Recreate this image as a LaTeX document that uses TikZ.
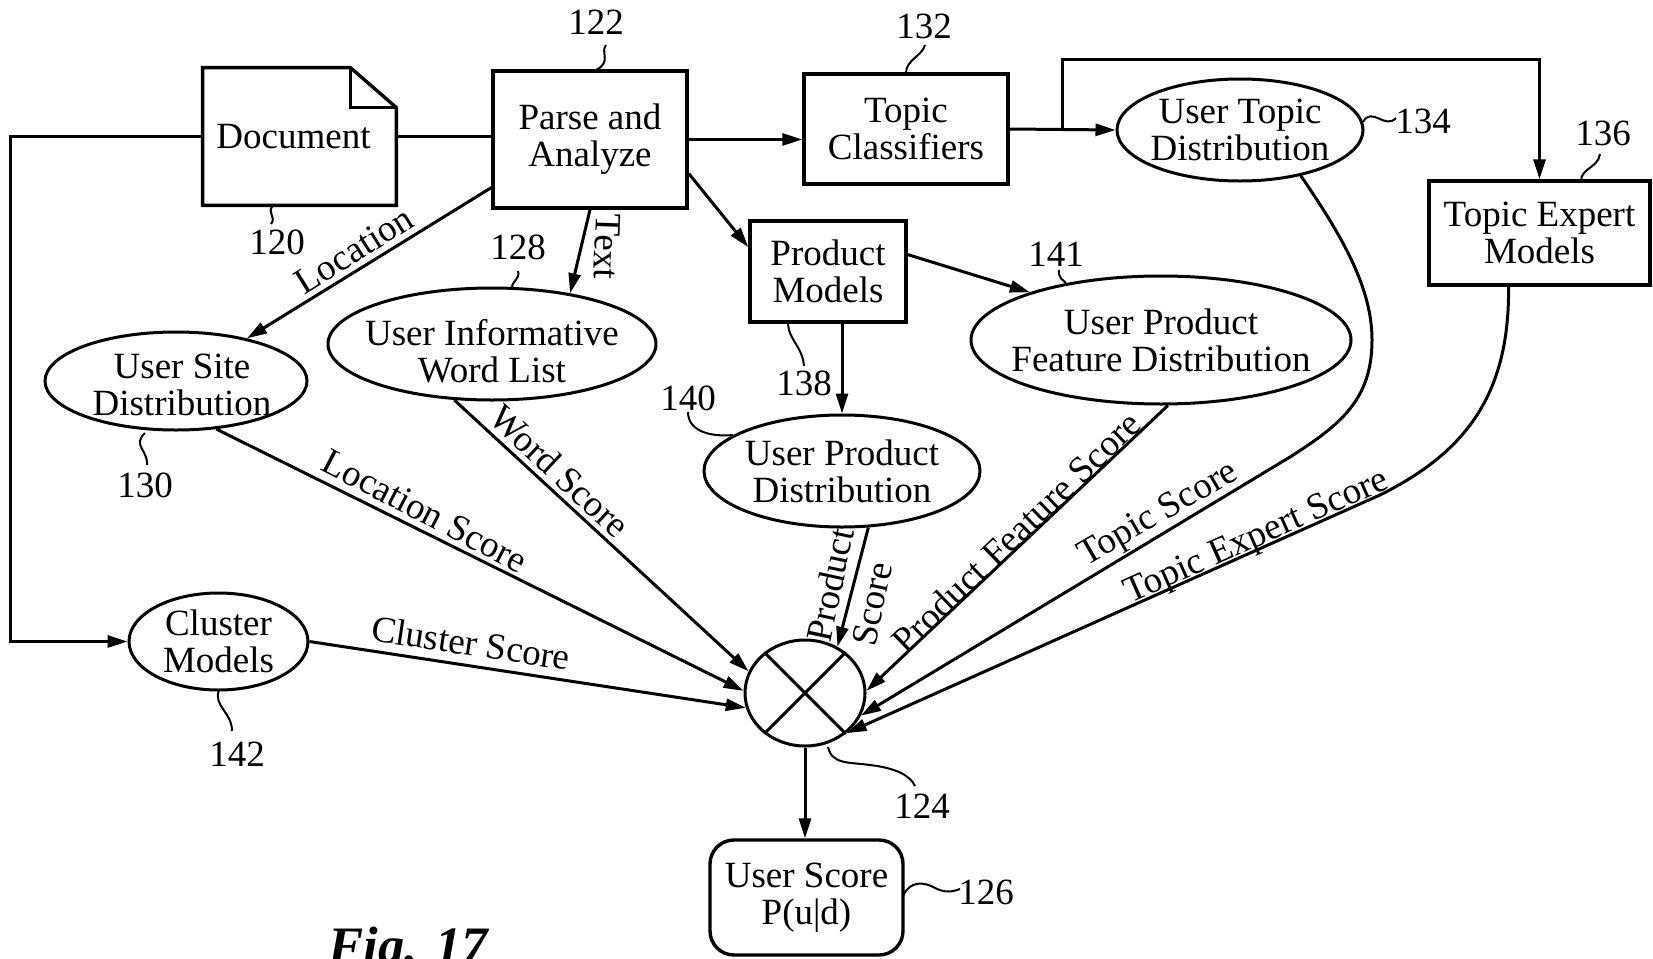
\documentclass[tikz,border=0pt]{standalone}
\usepackage{fontspec}
\setmainfont{Liberation Serif}
\usetikzlibrary{shapes.geometric,arrows.meta,calc}

\begin{document}
\begin{tikzpicture}[x=0.5pt,y=-0.5pt,
  every node/.style={font=\fontsize{18.5}{18.5}\selectfont},
  box/.style={draw, line width=1.7pt, rectangle, inner sep=2pt, align=center},
  plainbox/.style={rectangle, inner sep=2pt, align=center},
  ell/.style={draw, line width=1.5pt, ellipse, inner sep=0pt},
  conn/.style={line width=1.5pt},
  arr/.style={conn, -{Triangle[length=10pt,width=6pt]}},
  lead/.style={line width=1pt},
  elabel/.style={inner sep=0pt},
  refnum/.style={inner sep=0pt},
]
\useasboundingbox (0,0) rectangle (1653,958);

% ---- blocks ----
\node[plainbox, minimum width=96.5pt, minimum height=68.5pt,
  label={[xshift=-3pt]center:Document}] (doc) at (299.5,136.5) {};
\draw[line width=1.7pt, line join=miter] (doc.south west) -- (doc.north west) -- ($(doc.north east)+(-46,0)$)
  -- ($(doc.north east)+(0,40)$) -- (doc.south east) -- cycle;
\draw[line width=1.7pt] ($(doc.north east)+(-46,0)$) -- ($(doc.north east)+(-46,40)$) -- ($(doc.north east)+(0,40)$);

\node[box, minimum width=97pt, minimum height=68.5pt] (parse) at (590,139.5) {Parse and\\Analyze};
\node[box, minimum width=102pt, minimum height=55pt] (topic) at (906,129) {Topic\\Classifiers};
\node[ell, minimum width=123pt, minimum height=51pt,
  label={[align=center]center:User Topic\\Distribution}] (utd) at (1240,130) {};
\node[box, minimum width=110.5pt, minimum height=52pt] (tem) at (1539.5,233) {Topic Expert\\Models};
\node[box, minimum width=78pt, minimum height=50.5pt] (prod) at (828,271.5) {Product\\Models};
\node[ell, minimum width=190pt, minimum height=64pt,
  label={[align=center]center:User Product\\Feature Distribution}] (upfd) at (1161,340) {};
\node[ell, minimum width=138pt, minimum height=56pt,
  label={[align=center]center:User Product\\Distribution}] (upd) at (842,471) {};
\node[ell, minimum width=131pt, minimum height=49pt,
  label={[align=center, xshift=3pt, yshift=-2pt]center:User Site\\Distribution}] (usd) at (176,381) {};
\node[ell, minimum width=164pt, minimum height=56pt,
  label={[align=center, yshift=-3.5pt]center:User Informative\\Word List}] (uiwl) at (492,344) {};
\node[ell, minimum width=89.5pt, minimum height=48.5pt,
  label={[align=center]center:Cluster\\Models}] (cm) at (218.5,641.5) {};
\node[ell, minimum width=60pt, minimum height=53pt] (comb) at (805,693) {};
\draw[conn] (comb.135) -- (comb.-45);
\draw[conn] (comb.45) -- (comb.-135);
\node[box, rounded corners=12pt, minimum width=96.5pt, minimum height=57.5pt] (us) at (806.5,897.5) {User Score\\P(u|d)};

% ---- connectors ----
\draw[arr] (doc.west) -- ++(-192,0) |- (cm.west);
\draw[conn] (doc.east) -- (doc.east -| parse.west);
\draw[arr] (parse.east) -- (parse.east -| topic.west);
\draw[arr] (topic.east) -- (utd.west);
\coordinate (br) at ($(topic.east)!0.5!(utd.west)$);
\draw[arr] (br) -- ++(0,-70) -| (tem.north);
\draw[arr] (parse.-19) -- (prod.163);
\draw[arr] (prod.12) -- (upfd.160);
\draw[arr] (prod.south -| upd.north) -- (upd.north);
\draw[arr] (parse.206) -- (usd.31);
\draw[arr] (parse.south) -- (uiwl.33);
\draw[arr] (uiwl.236) -- (comb.159);
\draw[arr] (usd.-50) -- (comb.178);
\draw[arr] (cm.east) -- (comb.194);
\draw[arr] (upd.-65) -- (comb.55);
\draw[arr] (upfd.-84) -- (comb.2);
\draw[arr] (utd.-37) .. controls (1345,240) and (1372,290) .. (1372,340)
  .. controls (1372,400) and (1340,425) .. (1290,457) -- (comb.-22);
\draw[arr] (tem.-120) .. controls (1510,400) and (1460,455) .. (1380,495) -- (comb.-44);
\draw[arr] (comb.south) -- (comb.south |- us.north);

% ---- connector labels ----
\node[elabel, rotate=32] at (354,250) {Location};
\node[elabel, rotate=-92] at (607,247) {Text};
\node[elabel, rotate=-43] at (560,471) {Word Score};
\node[elabel, rotate=-27.5] at (425,511) {Location Score};
\node[elabel, rotate=-8.5] at (471,643) {Cluster Score};
\node[elabel, rotate=78] at (830,585) {Product};
\node[elabel, rotate=78] at (872,604) {Score};
\node[elabel, rotate=44] at (1016,532) {Product Feature Score};
\node[elabel, rotate=30] at (1159,515) {Topic Score};
\node[elabel, rotate=24] at (1257,538) {Topic Expert Score};

% ---- reference numerals and leaders ----
\node[refnum] (n122) at (596,22) {122};
\draw[lead] (596,70) .. controls (612,62) and (600,52) .. (606,45);
\node[refnum] (n120) at (277,242) {120};
\draw[lead] (273,206) .. controls (266,212) and (277,217) .. (271,224);
\node[refnum] (n132) at (924,26) {132};
\draw[lead] (906,73) .. controls (906,60) and (922,56) .. (925,45);
\node[refnum] (n134) at (1423,121) {134};
\draw[lead] (1363,122) .. controls (1372,106) and (1385,130) .. (1396,118);
\node[refnum] (n136) at (1603,133) {136};
\draw[lead] (1581,181) .. controls (1581,168) and (1598,168) .. (1600,154);
\node[refnum] (n128) at (518,247) {128};
\draw[lead] (513,289) .. controls (509,282) and (521,280) .. (518,271);
\node[refnum] (n130) at (145,485) {130};
\draw[lead] (145,433) .. controls (132,445) and (148,450) .. (147,465);
\node[refnum] (n141) at (1056,254) {141};
\draw[lead] (1066,283) .. controls (1063,280) and (1058,278) .. (1059,270);
\node[refnum] (n138) at (804,383) {138};
\draw[lead] (788,322) .. controls (788,340) and (802,345) .. (804,366);
\node[refnum] (n140) at (688,398) {140};
\draw[lead] (688,412) .. controls (688,432) and (712,437) .. (733,435);
\node[refnum] (n142) at (237,754) {142};
\draw[lead] (219,690) .. controls (213,706) and (232,712) .. (232,731);
\node[refnum] (n124) at (922,806) {124};
\draw[lead] (828,747) .. controls (832,765) and (850,762) .. (870,765)
  .. controls (895,768) and (910,775) .. (915,786);
\node[refnum] (n126) at (986,892) {126};
\draw[lead] (903,896) .. controls (910,880) and (925,882) .. (935,888)
  .. controls (945,893) and (952,892) .. (960,889);

% ---- figure caption ----
\node[anchor=base west, inner sep=0pt, font=\fontsize{26.3}{26.3}\selectfont\bfseries\itshape] (fig) at (328,963) {Fig. 17};
\end{tikzpicture}
\end{document}
